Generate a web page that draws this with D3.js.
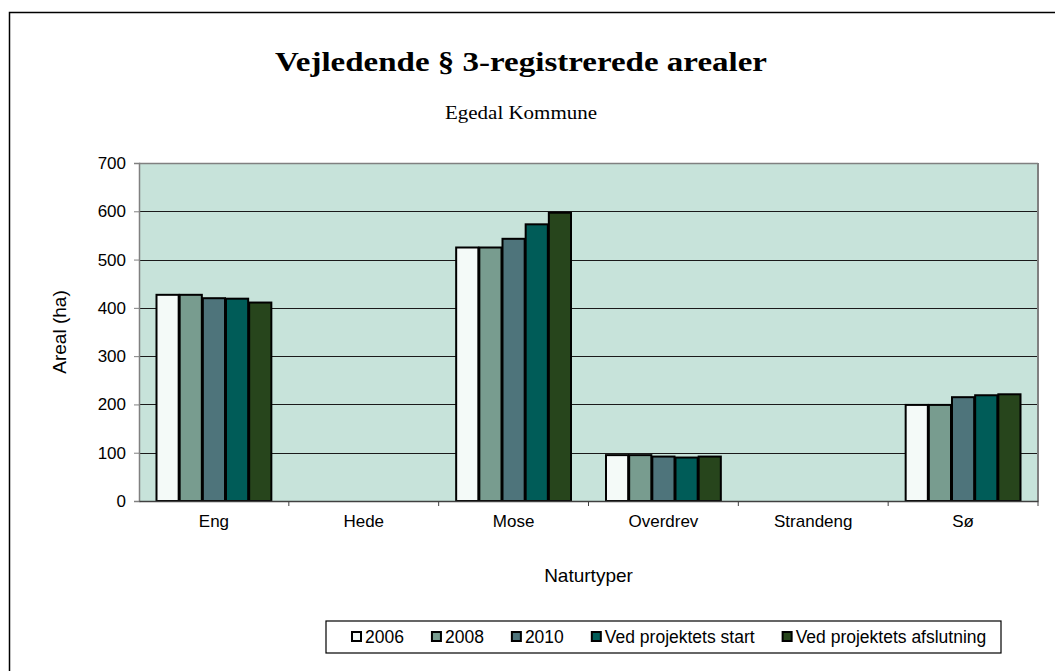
<!DOCTYPE html>
<html>
<head>
<meta charset="utf-8">
<script src="https://cdn.jsdelivr.net/npm/d3@7"></script>
<style>
html,body{margin:0;padding:0;background:#fff;}
svg{display:block;}
</style>
</head>
<body>
<svg id="chart" width="1055" height="671"></svg>
<script>
const categories = ["Eng", "Hede", "Mose", "Overdrev", "Strandeng", "Sø"];
const seriesNames = ["2006", "2008", "2010", "Ved projektets start", "Ved projektets afslutning"];
const values2006 = [427, 0, 525, 95, 0, 199];
const values2008 = [427, 0, 525, 95, 0, 199];
const values2010 = [420, 0, 543, 92, 0, 215];
const valuesStart = [419, 0, 573, 90, 0, 219];
const valuesEnd = [411, 0, 597, 92, 0, 221];
const yTicks = [0, 100, 200, 300, 400, 500, 600, 700];
const colors = ["#f4faf8", "#789c8f", "#4e747b", "#005c58", "#27451c"];

const seriesValues = [values2006, values2008, values2010, valuesStart, valuesEnd];

const svg = d3.select("#chart");
const fontSans = "'Liberation Sans', Arial, sans-serif";
const fontSerif = "'Liberation Serif', 'Times New Roman', serif";

// outer frame
svg.append("rect").attr("x", 9.5).attr("y", 12.5).attr("width", 1100).attr("height", 700)
  .attr("fill", "none").attr("stroke", "#000").attr("stroke-width", 1.5);

const plot = {left: 139, top: 163, width: 899, height: 338};
const x0 = d3.scaleBand().domain(categories).range([plot.left, plot.left + plot.width]);
const x1 = d3.scaleBand().domain(seriesNames).range([17, x0.bandwidth() - 17]);
const y = d3.scaleLinear().domain([0, 700]).range([plot.top + plot.height, plot.top]);

// background
svg.append("rect").attr("x", plot.left).attr("y", plot.top).attr("width", plot.width).attr("height", plot.height)
  .attr("fill", "#c7e3da");

// gridlines
svg.append("g").selectAll("line").data(yTicks.filter(d => d > 0 && d < 700)).join("line")
  .attr("x1", plot.left).attr("x2", plot.left + plot.width)
  .attr("y1", d => Math.round(y(d)) + 0.5).attr("y2", d => Math.round(y(d)) + 0.5)
  .attr("stroke", "#1a1a1a").attr("stroke-width", 1.2);
svg.append("line").attr("x1", plot.left).attr("x2", plot.left + plot.width)
  .attr("y1", plot.top + 0.5).attr("y2", plot.top + 0.5).attr("stroke", "#808080").attr("stroke-width", 1.5);
svg.append("line").attr("x1", plot.left + plot.width).attr("x2", plot.left + plot.width)
  .attr("y1", plot.top).attr("y2", plot.top + plot.height).attr("stroke", "#808080").attr("stroke-width", 2);

// bars
const groups = svg.append("g").selectAll("g").data(seriesNames).join("g")
  .attr("fill", (d, i) => colors[i]);
groups.each(function(s, si) {
  d3.select(this).selectAll("rect")
    .data(categories.map((c, ci) => ({c, v: seriesValues[si][ci]})).filter(d => d.v > 0))
    .join("rect")
    .attr("x", d => x0(d.c) + x1(s) + 0.5)
    .attr("y", d => y(d.v))
    .attr("width", x1.bandwidth() - 1)
    .attr("height", d => y(0) - y(d.v))
    .attr("stroke", "#000").attr("stroke-width", 2);
});

// y axis
const yAxis = d3.axisLeft(y).tickValues(yTicks).tickSize(5).tickPadding(8);
const ga = svg.append("g").attr("transform", `translate(${plot.left},0)`).call(yAxis);
ga.select(".domain").attr("stroke", "#808080").attr("stroke-width", 1.5);
ga.selectAll(".tick line").attr("stroke", "#808080");
ga.selectAll("text").attr("font-family", fontSans).attr("font-size", 17).attr("fill", "#000");

// x axis
const xAxis = d3.axisBottom(x0).tickSize(0).tickPadding(14);
const gx = svg.append("g").attr("transform", `translate(0,${plot.top + plot.height})`).call(xAxis);
gx.select(".domain").attr("stroke", "#404040").attr("stroke-width", 1.5);
gx.selectAll("text").attr("font-family", fontSans).attr("font-size", 17).attr("fill", "#000");
svg.append("g").selectAll("line").data(categories).join("line")
  .attr("x1", d => x0(d) + x0.bandwidth()).attr("x2", d => x0(d) + x0.bandwidth())
  .attr("y1", plot.top + plot.height).attr("y2", plot.top + plot.height + 5)
  .attr("stroke", "#404040").attr("stroke-width", 1);

// titles
svg.append("text").attr("x", 521).attr("y", 71).attr("text-anchor", "middle")
  .attr("font-family", fontSerif).attr("font-weight", "bold").attr("font-size", 27)
  .attr("textLength", 492).attr("lengthAdjust", "spacingAndGlyphs")
  .text("Vejledende § 3-registrerede arealer");
svg.append("text").attr("x", 521).attr("y", 119).attr("text-anchor", "middle")
  .attr("font-family", fontSerif).attr("font-size", 19)
  .attr("textLength", 152).attr("lengthAdjust", "spacingAndGlyphs")
  .text("Egedal Kommune");

// axis titles
svg.append("text").attr("transform", `translate(66,${plot.top + plot.height / 2}) rotate(-90)`)
  .attr("text-anchor", "middle").attr("font-family", fontSans).attr("font-size", 19)
  .text("Areal (ha)");
svg.append("text").attr("x", plot.left + plot.width / 2).attr("y", 582).attr("text-anchor", "middle")
  .attr("font-family", fontSans).attr("font-size", 19).text("Naturtyper");

// legend
const leg = svg.append("g");
leg.append("rect").attr("x", 326).attr("y", 621).attr("width", 675).attr("height", 32)
  .attr("fill", "#fff").attr("stroke", "#000").attr("stroke-width", 1.2);
let lx = 352;
seriesNames.forEach((s, i) => {
  leg.append("rect").attr("x", lx).attr("y", 632).attr("width", 9).attr("height", 9)
    .attr("fill", colors[i]).attr("stroke", "#000").attr("stroke-width", 2);
  const t = leg.append("text").attr("x", lx + 13).attr("y", 643)
    .attr("font-family", fontSans).attr("font-size", 17.5).text(s);
  lx += 13 + t.node().getComputedTextLength() + 28;
});
</script>
</body>
</html>
